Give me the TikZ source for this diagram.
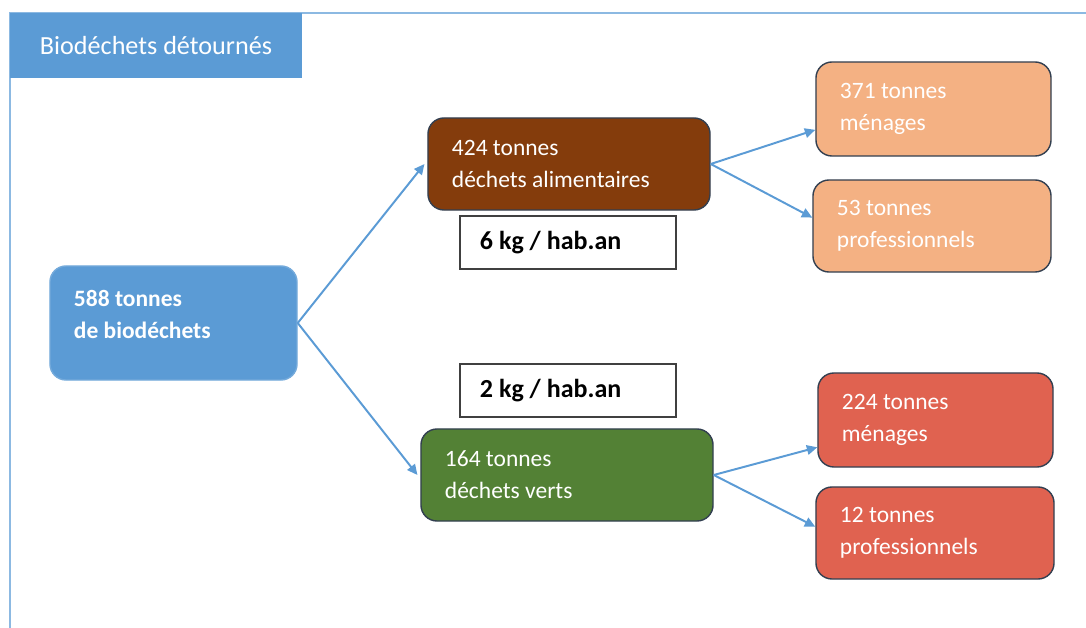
\documentclass[tikz,border=0pt]{standalone}
\usepackage{fontspec}
\setmainfont{Carlito}
\usepackage{tikz}
\usetikzlibrary{arrows.meta,positioning}
\definecolor{cadreblue}{RGB}{91,155,213}
\definecolor{alimbrown}{RGB}{132,60,12}
\definecolor{vertgreen}{RGB}{83,129,53}
\definecolor{peach}{RGB}{244,177,131}
\definecolor{coral}{RGB}{224,98,80}
\definecolor{bordure}{RGB}{50,63,80}

\begin{document}
\begin{tikzpicture}[
    x=0.025cm, y=-0.025cm,
    >={Triangle[length=2.6mm,width=2.4mm]},
    flux/.style={
        rectangle, draw=bordure, line width=1pt,
        rounded corners=0.4cm, inner xsep=0.6cm, align=flush left,
        text=white, font=\fontsize{16.7}{22.7}\selectfont
    },
    sourcebox/.style={flux, fill=cadreblue, draw=cadreblue!85!white,
        font=\fontsize{16.7}{22.7}\selectfont\bfseries},
    alimbox/.style={flux, fill=alimbrown, minimum height=2.3cm},
    vertbox/.style={flux, fill=vertgreen, minimum height=2.3cm},
    alimout/.style={flux, fill=peach},
    vertout/.style={flux, fill=coral},
    ratio/.style={
        rectangle, draw=black!75, line width=0.8pt, fill=white,
        inner xsep=0.5cm, text width=4.4cm, minimum height=1.325cm,
        align=flush left, font=\fontsize{18.5}{22}\selectfont\bfseries
    },
    arrow/.style={->, line width=1.4pt, cadreblue}
]
\useasboundingbox (0,0) rectangle (1086,628);

% cadre et titre
\draw[cadreblue!70, line width=0.8pt] (10,628) -- (10,13) -- (1086,13);
\node[rectangle, fill=cadreblue, minimum width=7.3cm, minimum height=1.625cm,
    text=white, font=\fontsize{18.6}{22}\selectfont] (titre) at (156,45.5) {Biodéchets détournés};

% source
\node[sourcebox, text width=4.975cm, minimum height=2.85cm] (bio) at (173.5,323) {588 tonnes\\de biodéchets\\[-10pt]\mbox{}};

% deux flux
\node[alimbox, text width=5.85cm] (alim) at (569,164) {424 tonnes\\déchets alimentaires};
\node[vertbox, text width=6.1cm] (verts) at (567,475) {164 tonnes\\déchets verts};

% ratios par habitant
\node[ratio] (ratioalim) at (568,242.5) {6 kg / hab.an};
\node[ratio] (ratioverts) at (568,390.5) {2 kg / hab.an};

% origine
\node[alimout, text width=4.675cm, minimum height=2.35cm] (menalim) at (933.5,109) {371 tonnes\\ménages};
\node[alimout, text width=4.75cm, minimum height=2.3cm] (proalim) at (932,226) {53 tonnes\\professionnels};
\node[vertout, text width=4.675cm, minimum height=2.35cm] (menverts) at (935.5,420) {224 tonnes\\ménages};
\node[vertout, text width=4.75cm, minimum height=2.3cm] (proverts) at (935,533) {12 tonnes\\professionnels};

% flèches
\draw[arrow] (bio.east) -- ([xshift=-2pt]alim.west);
\draw[arrow] (bio.east) -- ([xshift=-2pt]verts.west);
\draw[arrow] (alim.east) -- (menalim.190);
\draw[arrow] (alim.east) -- (proalim.176);
\draw[arrow] (verts.east) -- (menverts.193);
\draw[arrow] (verts.east) -- (proverts.177);

\end{tikzpicture}
\end{document}
